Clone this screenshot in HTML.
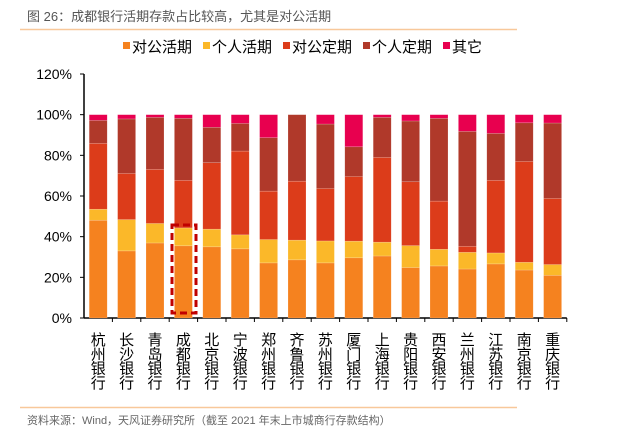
<!DOCTYPE html>
<html><head><meta charset="utf-8"><style>
body{margin:0;width:630px;height:429px;background:#fff;overflow:hidden;font-family:"Liberation Sans","Noto Sans CJK SC",sans-serif}
</style></head><body>
<svg id="c" width="630" height="429" xmlns="http://www.w3.org/2000/svg">
<text x="27" y="21" font-size="13" fill="#555" font-family="Liberation Sans, Noto Sans CJK SC, sans-serif">图 26：成都银行活期存款占比较高，尤其是对公活期</text>
<line x1="20" y1="29.5" x2="517" y2="29.5" stroke="#f8c89a" stroke-width="1.5"/>
<g id="legend"></g>
<g id="axes"></g>
<g id="bars"></g>
<rect x="172" y="225" width="24" height="88" fill="none" stroke="#c00000" stroke-width="3" stroke-dasharray="7,4"/>
<line x1="20" y1="407.5" x2="517" y2="407.5" stroke="#f8c89a" stroke-width="1.5"/>
<text x="27" y="424" font-size="11" fill="#666" font-family="Liberation Sans, Noto Sans CJK SC, sans-serif">资料来源：Wind，天风证券研究所（截至 2021 年末上市城商行存款结构）</text>
</svg>
<script>
const categories=["杭州银行","长沙银行","青岛银行","成都银行","北京银行","宁波银行","郑州银行","齐鲁银行","苏州银行","厦门银行","上海银行","贵阳银行","西安银行","兰州银行","江苏银行","南京银行","重庆银行"];
const seriesNames=["对公活期","个人活期","对公定期","个人定期","其它"];
const corpDemand=[48.1,33.0,36.9,35.5,35.0,34.0,27.1,28.6,27.1,29.6,30.5,24.8,25.6,24.1,26.6,23.6,21.0];
const retailDemand=[5.4,15.4,9.6,8.8,8.7,6.9,11.5,9.7,10.8,8.2,6.8,10.8,8.2,8.2,5.4,3.8,5.3];
const corpTime=[32.4,22.7,26.6,23.4,32.7,41.2,23.8,29.0,25.8,31.8,41.7,31.4,23.7,3.0,35.7,49.6,32.5];
const retailTime=[11.3,26.8,25.6,30.5,17.4,13.6,26.3,32.7,31.7,14.6,19.7,29.9,40.7,56.5,23.1,19.0,37.1];
const other=[2.8,2.1,1.3,1.8,6.2,4.3,11.3,0,4.6,15.8,1.3,3.1,1.8,8.2,9.2,4.0,4.1];
const yTicks=[0,20,40,60,80,100,120];
const series=[corpDemand,retailDemand,corpTime,retailTime,other];
const colors=["#f5821f","#fbb829","#dc3c1a","#b0392a","#e8004f"];
const NS="http://www.w3.org/2000/svg";
const x0=84,band=28.4,y0=318,yTop=74,bw=18;
const y=v=>y0-(v/120)*(y0-yTop);
const xc=i=>x0+band*(i+0.5);
function mk(tag,at,parent){const e=document.createElementNS(NS,tag);for(const k in at)e.setAttribute(k,at[k]);parent.appendChild(e);return e;}
const axes=document.getElementById('axes'),bars=document.getElementById('bars'),leg=document.getElementById('legend');
const ff="Liberation Sans, Noto Sans CJK SC, sans-serif";
let yl=mk('line',{x1:x0,y1:yTop,x2:x0,y2:y0,stroke:'#000','stroke-width':1.5},axes);


let xl=mk('line',{x1:x0,y1:y0,x2:x0+band*categories.length,y2:y0,stroke:'#000','stroke-width':1.5},axes);


yTicks.forEach(t=>{
  const tk=mk('line',{x1:x0-4,y1:y(t),x2:x0,y2:y(t),stroke:'#000'},axes);
  
  
  const tx=mk('text',{x:x0-12,y:y(t)+5,'font-size':14,'text-anchor':'end','font-family':ff},axes);
  tx.textContent=t+'%';
  
  
});
categories.forEach((c,i)=>{
  const tk=mk('line',{x1:x0+band*(i+1),y1:y0,x2:x0+band*(i+1),y2:y0+4,stroke:'#000'},axes);
  
  
  const g=mk('text',{'font-size':15,'text-anchor':'middle','font-family':ff},axes);
  
  
  [...c].forEach((ch,k)=>{const ts=mk('tspan',{x:xc(i),y:345+k*14.3},g);ts.textContent=ch;});
  let acc=0;
  series.forEach((s,j)=>{
    const v=s[i];if(v<=0){return;}
    const r=mk('rect',{x:xc(i)-bw/2,y:y(acc+v),width:bw,height:y(acc)-y(acc+v),fill:colors[j],stroke:'rgba(255,255,255,0.35)','stroke-width':0.5},bars);
    
    
    acc+=v;
  });
});
const lx=[123,203,283,363,443];
seriesNames.forEach((n,j)=>{
  const m=mk('rect',{x:lx[j],y:42,width:7,height:7,fill:colors[j]},leg);
  
  
  const t=mk('text',{x:lx[j]+9,y:52,'font-size':15,'font-family':ff},leg);
  t.textContent=n;
  
  
});
</script>
</body></html>
